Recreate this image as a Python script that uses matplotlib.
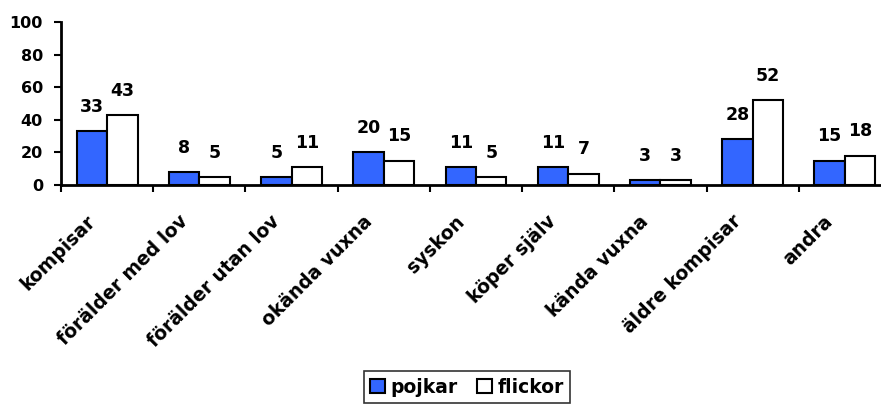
import numpy as np
import matplotlib
matplotlib.use("Agg")
import matplotlib.pyplot as plt
from matplotlib.transforms import ScaledTranslation

categories = ["kompisar", "förälder med lov", "förälder utan lov", "okända vuxna",
              "syskon", "köper själv", "kända vuxna", "äldre kompisar", "andra"]
pojkar = [33, 8, 5, 20, 11, 11, 3, 28, 15]
flickor = [43, 5, 11, 15, 5, 7, 3, 52, 18]
yticks = [0, 20, 40, 60, 80, 100]

plt.rcParams["font.family"] = "DejaVu Sans"
plt.rcParams["font.weight"] = "bold"

fig = plt.figure(figsize=(8.81, 4.05), dpi=100)
# axis runs past the right edge, like the cropped original
ax = fig.add_axes([61 / 881, 1 - 185 / 405, 830 / 881, 163 / 405])

x = np.arange(len(categories)) + 0.5
w = 0.33
b1 = ax.bar(x - w / 2, pojkar, w, color="#3366ff", edgecolor="black", linewidth=1.5, label="pojkar")
b2 = ax.bar(x + w / 2, flickor, w, color="white", edgecolor="black", linewidth=1.5, label="flickor")

for xi, v in zip(x - w / 2, pojkar):
    ax.annotate(str(v), (xi, v), xytext=(0, 11), textcoords="offset points",
                ha="center", va="bottom", fontsize=12.5, fontweight="bold")
for xi, v in zip(x + w / 2, flickor):
    ax.annotate(str(v), (xi, v), xytext=(0, 11), textcoords="offset points",
                ha="center", va="bottom", fontsize=12.5, fontweight="bold")

ax.set_xlim(0, len(categories))
ax.set_ylim(0, 100)
ax.set_yticks(yticks)
ax.set_yticklabels([str(t) for t in yticks], fontsize=11.5, fontweight="bold")
ax.set_xticks(np.arange(len(categories) + 1))
ax.set_xticklabels([])
ax.set_xticks(x, minor=True)
ax.set_xticklabels(categories, minor=True, rotation=45, ha="right", va="bottom",
                   rotation_mode="anchor", fontsize=13.5, fontweight="bold")
ax.tick_params(axis="x", which="minor", length=0, pad=29)
ax.tick_params(axis="both", which="major", direction="out", length=5, width=1.5)
ax.tick_params(axis="y", pad=8)

# nudge category labels a little to the left
shift = ScaledTranslation(-8 / 100, 0, fig.dpi_scale_trans)
for lab in ax.xaxis.get_minorticklabels():
    lab.set_transform(lab.get_transform() + shift)

for s in ["top", "right"]:
    ax.spines[s].set_visible(False)
for s in ["left", "bottom"]:
    ax.spines[s].set_linewidth(2)

leg = fig.legend(handles=[b1, b2], loc="upper center", bbox_to_anchor=(467 / 881, 1 - 371 / 405),
                 ncol=2, frameon=True, fancybox=False, handlelength=0.8, handleheight=0.8,
                 handletextpad=0.3, columnspacing=1.0, borderpad=0.35, borderaxespad=0,
                 prop={"size": 13.5, "weight": "bold"})
leg.get_frame().set_edgecolor("black")
leg.get_frame().set_linewidth(1.2)

fig.savefig("out.png", dpi=100)
